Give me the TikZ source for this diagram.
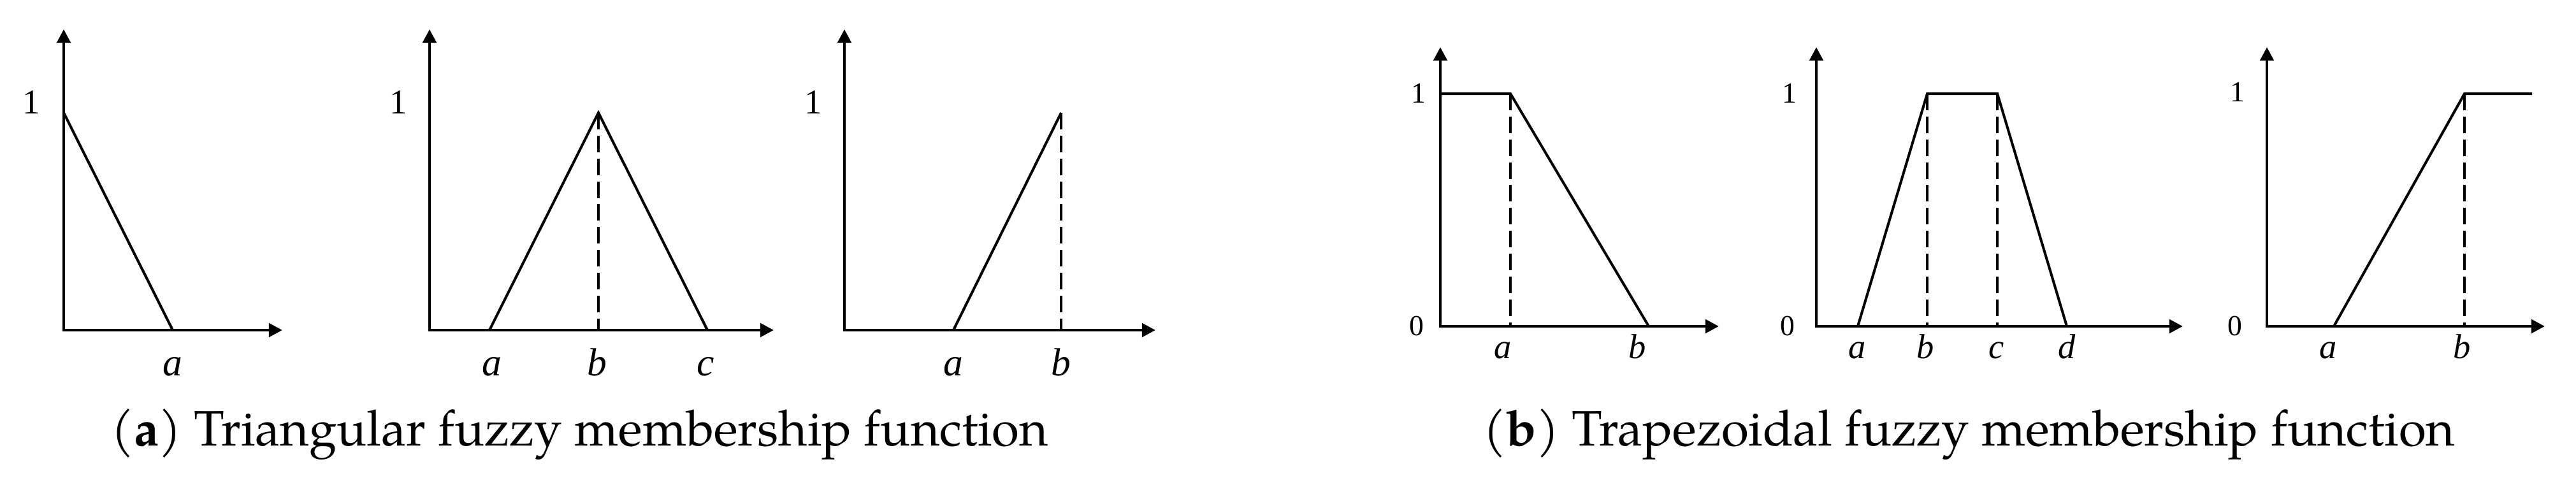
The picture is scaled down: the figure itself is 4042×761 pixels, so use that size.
\documentclass[tikz,border=0pt]{standalone}
\usepackage{fontspec}
\setmainfont{Liberation Serif}
\newfontfamily\capfont{TeX Gyre Pagella}
\usetikzlibrary{arrows.meta}
\tikzset{
  axis/.style={line width=1.35pt,{Triangle[length=6pt,width=6pt]}-{Triangle[length=6pt,width=6pt]}},
  mf/.style={line width=1.15pt},
  guide/.style={line width=0.9pt,dash pattern=on 7.4pt off 2.8pt},
  numa/.style={inner sep=0pt,font=\fontsize{15.5}{18}\selectfont},
  numb/.style={inner sep=0pt,font=\fontsize{13}{16}\selectfont},
  vara/.style={inner sep=0pt,anchor=base,font=\fontsize{17.5}{20}\selectfont\itshape},
  varb/.style={inner sep=0pt,anchor=base,font=\fontsize{15.5}{18}\selectfont\itshape},
  caption/.style={inner sep=0pt,anchor=base,font=\fontsize{22.2}{26}\selectfont\capfont}
}
\begin{document}
\begin{tikzpicture}[x=0.01cm,y=-0.01cm]
  \useasboundingbox (0,0) rectangle (4042,761);
  % (a) triangular
  \coordinate (A1o) at (100,518);
  \coordinate (A1y) at (100,46);
  \coordinate (A1x) at (443,518);
  \coordinate (A1one) at (100,177);
  \coordinate (A1a) at (271,518);
  \draw[axis] (A1y) -- (A1o) -- (A1x);
  \draw[mf] (A1one) -- (A1a);
  \node[numa] (A1l1) at (49,161) {1};
  \node[vara] (A1la) at (271,589) {a};

  \coordinate (A2o) at (674,518);
  \coordinate (A2y) at (674,46);
  \coordinate (A2x) at (1214,518);
  \coordinate (A2a) at (768,518);
  \coordinate (A2b) at (939,518);
  \coordinate (A2top) at (939,177);
  \coordinate (A2c) at (1110,518);
  \draw[axis] (A2y) -- (A2o) -- (A2x);
  \draw[mf] (A2a) -- (A2top) -- (A2c);
  \draw[guide] (A2top) -- (A2b);
  \node[numa] (A2l1) at (625,161) {1};
  \node[vara] (A2la) at (772,589) {a};
  \node[vara] (A2lb) at (937,589) {b};
  \node[vara] (A2lc) at (1107,589) {c};

  \coordinate (A3o) at (1325,518);
  \coordinate (A3y) at (1325,46);
  \coordinate (A3x) at (1813,518);
  \coordinate (A3a) at (1496,518);
  \coordinate (A3b) at (1665,518);
  \coordinate (A3top) at (1665,177);
  \draw[axis] (A3y) -- (A3o) -- (A3x);
  \draw[mf] (A3a) -- (A3top);
  \draw[guide] (A3top) -- (A3b);
  \node[numa] (A3l1) at (1276,161) {1};
  \node[vara] (A3la) at (1496,589) {a};
  \node[vara] (A3lb) at (1665,589) {b};

  \node[caption] (capa) at (910,699) {(\textbf{a}) Triangular fuzzy membership function};

  % (b) trapezoidal
  \coordinate (B1o) at (2260,512);
  \coordinate (B1y) at (2260,74);
  \coordinate (B1x) at (2697,512);
  \coordinate (B1one) at (2260,147);
  \coordinate (B1at) at (2370,147);
  \coordinate (B1a) at (2370,512);
  \coordinate (B1b) at (2587,512);
  \draw[axis] (B1y) -- (B1o) -- (B1x);
  \draw[mf] (B1one) -- (B1at) -- (B1b);
  \draw[guide] (B1at) -- (B1a);
  \node[numb] (B1l1) at (2226,146) {1};
  \node[numb] (B1l0) at (2223,512) {0};
  \node[varb] (B1la) at (2358,563) {a};
  \node[varb] (B1lb) at (2569,563) {b};

  \coordinate (B2o) at (2850,512);
  \coordinate (B2y) at (2850,74);
  \coordinate (B2x) at (3425,512);
  \coordinate (B2a) at (2915,512);
  \coordinate (B2b) at (3024,512);
  \coordinate (B2bt) at (3024,147);
  \coordinate (B2ct) at (3134,147);
  \coordinate (B2c) at (3134,512);
  \coordinate (B2d) at (3243,512);
  \draw[axis] (B2y) -- (B2o) -- (B2x);
  \draw[mf] (B2a) -- (B2bt) -- (B2ct) -- (B2d);
  \draw[guide] (B2bt) -- (B2b);
  \draw[guide] (B2ct) -- (B2c);
  \node[numb] (B2l1) at (2808,146) {1};
  \node[numb] (B2l0) at (2805,512) {0};
  \node[varb] (B2la) at (2914,563) {a};
  \node[varb] (B2lb) at (3021,563) {b};
  \node[varb] (B2lc) at (3133,563) {c};
  \node[varb] (B2ld) at (3243,563) {d};

  \coordinate (B3o) at (3557,512);
  \coordinate (B3y) at (3557,74);
  \coordinate (B3x) at (3993,512);
  \coordinate (B3a) at (3662,512);
  \coordinate (B3b) at (3867,512);
  \coordinate (B3bt) at (3867,147);
  \coordinate (B3end) at (3973,147);
  \draw[axis] (B3y) -- (B3o) -- (B3x);
  \draw[mf] (B3a) -- (B3bt) -- (B3end);
  \draw[guide] (B3bt) -- (B3b);
  \node[numb] (B3l1) at (3511,144) {1};
  \node[numb] (B3l0) at (3507,512) {0};
  \node[varb] (B3la) at (3653,563) {a};
  \node[varb] (B3lb) at (3863,563) {b};

  \node[caption] (capb) at (3090,699) {(\textbf{b}) Trapezoidal fuzzy membership function};
\end{tikzpicture}
\end{document}
